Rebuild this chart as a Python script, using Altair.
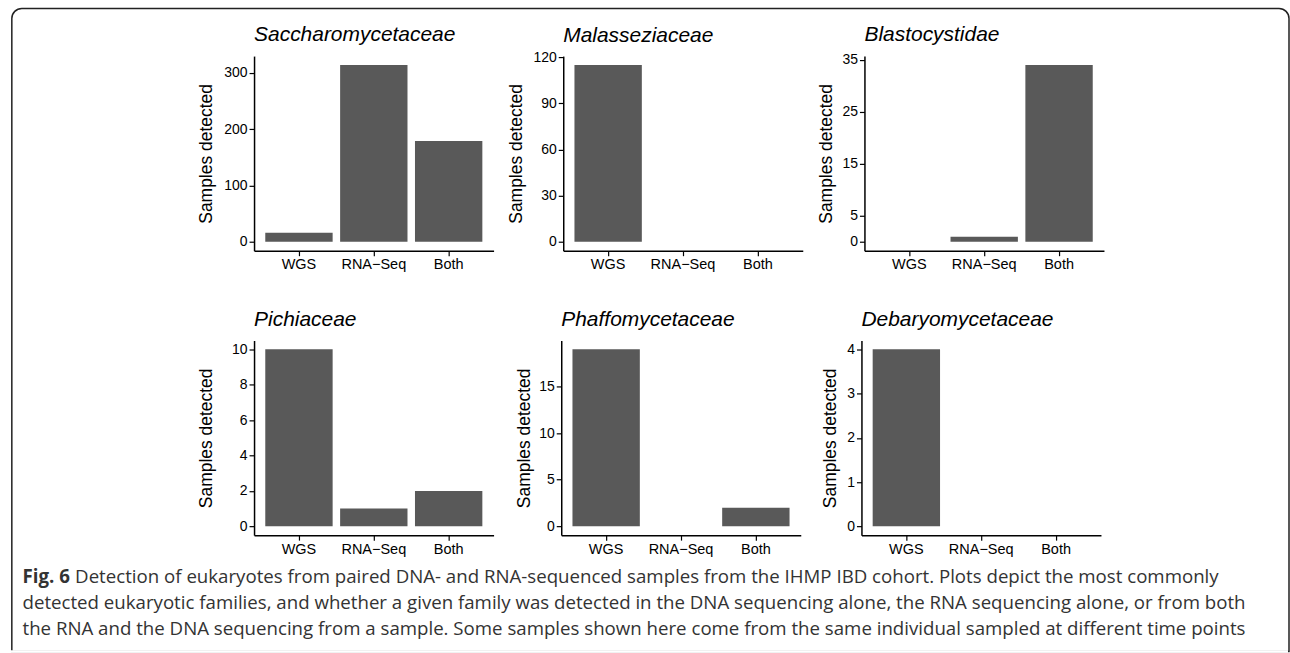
import altair as alt
import pandas as pd

# ---------------- data ----------------
families = ["Saccharomycetaceae", "Malasseziaceae", "Blastocystidae",
            "Pichiaceae", "Phaffomycetaceae", "Debaryomycetaceae"]
sources = ["WGS", "RNA\u2212Seq", "Both"]
wgs_counts = [16, 115, 0, 10, 19, 4]
rna_counts = [314, 0, 1, 1, 0, 0]
both_counts = [179, 0, 34, 2, 2, 0]
y_ticks = [[0, 100, 200, 300], [0, 30, 60, 90, 120], [0, 5, 15, 25, 35],
           [0, 2, 4, 6, 8, 10], [0, 5, 10, 15], [0, 1, 2, 3, 4]]
y_title = "Samples detected"

caption_bold = "Fig. 6"
caption_lines = [
    "Detection of eukaryotes from paired DNA- and RNA-sequenced samples from the IHMP IBD cohort. Plots depict the most commonly",
    "detected eukaryotic families, and whether a given family was detected in the DNA sequencing alone, the RNA sequencing alone, or from both",
    "the RNA and the DNA sequencing from a sample. Some samples shown here come from the same individual sampled at different time points",
]

# ---------------- layout knobs ----------------
PW, PH = 240, 195
axis_extent = [32.7, 32, 23.7, 32.7, 22.7, 16]
title_offset = [11, 4.5, 7.6, 11, 11, 11]
AXF = "Liberation Sans"


def panel(i):
    df = pd.DataFrame({"source": sources,
                       "count": [wgs_counts[i], rna_counts[i], both_counts[i]]})
    m = max(df["count"])
    dom = [-0.05 * m, 1.05 * m]
    return alt.Chart(df).mark_bar(color="#595959").encode(
        x=alt.X("source:N", sort=sources,
                scale=alt.Scale(paddingInner=0.1, paddingOuter=0.15),
                axis=alt.Axis(title=None, labelAngle=0, labelFontSize=14.5,
                              labelPadding=2, labelColor="black")),
        y=alt.Y("count:Q", scale=alt.Scale(domain=dom, nice=False, zero=False),
                axis=alt.Axis(values=y_ticks[i], title=y_title, grid=False,
                              minExtent=axis_extent[i], maxExtent=axis_extent[i],
                              titlePadding=5.5, labelFontSize=14, labelPadding=2,
                              labelColor="black")),
        y2=alt.datum(0),
    ).properties(
        width=PW, height=PH,
        title=alt.TitleParams(families[i], anchor="start", frame="group",
                              font=AXF, fontSize=21, fontStyle="italic",
                              fontWeight="normal", color="black",
                              offset=title_offset[i]),
    )


row1 = alt.hconcat(panel(0), panel(1), panel(2), spacing=13.8)
row2 = alt.hconcat(panel(3), panel(4), panel(5), spacing=20.8)

# ---------------- caption + frame ----------------
cap_df = pd.DataFrame({"line": [1, 2, 3], "text": caption_lines})
CX = -232
ybase = [-42, 10]
cap_font = dict(font="Open Sans", fontSize=18.7, color="#333333",
                align="left", baseline="alphabetic")
yscale = alt.Y("line:O", axis=None,
               scale=alt.Scale(type="point", domain=[1, 2, 3], range=ybase, padding=0))

first_line = alt.Chart(cap_df).transform_filter("datum.line == 1").mark_text(
    **cap_font).encode(x=alt.value(CX + 52.7), y=yscale, text="text:N")
other_lines = alt.Chart(cap_df).transform_filter("datum.line > 1").mark_text(
    **cap_font).encode(x=alt.value(CX), y=yscale, text="text:N")
bold = alt.Chart(cap_df).transform_filter("datum.line == 1").mark_text(
    fontWeight="bold", **cap_font).encode(x=alt.value(CX), y=yscale,
                                           text=alt.value(caption_bold))
frame = alt.Chart(cap_df).transform_filter("datum.line == 1").mark_rect(
    filled=False, stroke="#222222", strokeWidth=1.5,
    cornerRadiusTopLeft=10, cornerRadiusTopRight=10).encode(
    x=alt.value(-242.7), x2=alt.value(1037), y=alt.value(-617.7), y2=alt.value(26.5))
cover = alt.Chart(cap_df).transform_filter("datum.line == 1").mark_rule(
    color="white", strokeWidth=2.5).encode(
    x=alt.value(-244), x2=alt.value(1036), y=alt.value(26.5))

caption = alt.layer(frame, cover, bold, first_line, other_lines).properties(
    width=10, height=10)

chart = alt.vconcat(row1, row2, caption, spacing=285, bounds="flush").properties(
    padding={"left": 8.55, "top": 6.55, "right": 0, "bottom": 0},
    background="white",
).configure_view(strokeWidth=0).configure_axis(
    domainColor="black", domainWidth=1.5, tickColor="black", tickWidth=1.2,
    tickSize=5, labelFont=AXF, titleFont=AXF, titleFontSize=17.5,
    titleFontWeight="normal", titleColor="black",
)

chart.save("out.html", embed_options={"renderer": "svg", "actions": False})
